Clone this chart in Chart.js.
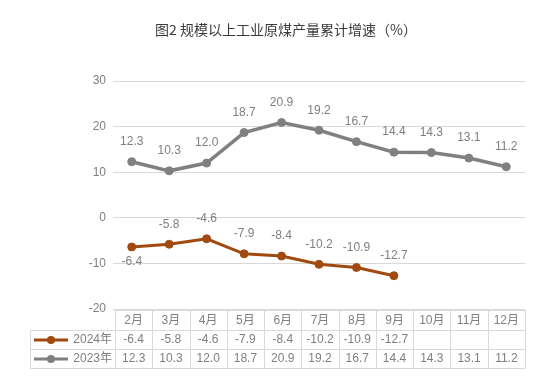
<!DOCTYPE html>
<html>
<head>
<meta charset="utf-8">
<script src="https://cdn.jsdelivr.net/npm/chart.js@4/dist/chart.umd.min.js"></script>
<style>
html,body{margin:0;padding:0;background:#fff;}
#wrap{width:554px;height:390px;position:relative;}
</style>
</head>
<body>
<div id="wrap"><canvas id="c" width="554" height="390"></canvas></div>
<script>
const titleText = '图2 规模以上工业原煤产量累计增速（%）';
const months = ['2月','3月','4月','5月','6月','7月','8月','9月','10月','11月','12月'];
const series2024 = [-6.4,-5.8,-4.6,-7.9,-8.4,-10.2,-10.9,-12.7,null,null,null];
const series2023 = [12.3,10.3,12.0,18.7,20.9,19.2,16.7,14.4,14.3,13.1,11.2];
const seriesNames = ['2024年','2023年'];
const yMin = -20, yMax = 30, yStep = 10;

const COL_2024 = '#a04a0f';
const COL_2023 = '#808080';
const TXT = '#7f7f7f';
const GRID = '#d9d9d9';
const FONT = "'Liberation Sans', 'Noto Sans CJK SC', sans-serif";

const titlePlugin = {
  id: 'titleDraw',
  afterDraw(chart) {
    const ctx = chart.ctx;
    ctx.save();
    ctx.font = "14px 'Noto Sans CJK SC', sans-serif";
    ctx.fillStyle = '#3a3a3a';
    ctx.textAlign = 'left';
    ctx.textBaseline = 'middle';
    // spread characters to match the reference title width
    const targetW = 262;
    const chars = Array.from(titleText);
    const natural = ctx.measureText(titleText).width;
    const extra = (targetW - natural) / (chars.length - 1);
    let x = 155;
    chars.forEach(ch => {
      ctx.fillText(ch, x, 30);
      x += ctx.measureText(ch).width + extra;
    });
    ctx.restore();
  }
};

const labelPlugin = {
  id: 'pointLabels',
  afterDatasetsDraw(chart) {
    const ctx = chart.ctx;
    ctx.save();
    ctx.font = '12px ' + FONT;
    ctx.fillStyle = TXT;
    ctx.textAlign = 'center';
    ctx.textBaseline = 'middle';
    chart.data.datasets.forEach((ds, di) => {
      const meta = chart.getDatasetMeta(di);
      meta.data.forEach((pt, i) => {
        const v = ds.data[i];
        if (v === null || v === undefined) return;
        const below = ds.labelBelow && ds.labelBelow.includes(i);
        const dy = below ? 15 : -20;
        ctx.fillText(v.toFixed(1), pt.x, pt.y + dy);
      });
    });
    ctx.restore();
  }
};

const tablePlugin = {
  id: 'dataTable',
  afterDraw(chart) {
    const ctx = chart.ctx;
    const area = chart.chartArea;
    const n = months.length;
    const left = area.left + 2;
    const right = area.right;
    const legendLeft = 30;
    const rows = [310, 330, 349, 368];
    const cw = (right - left) / n;
    ctx.save();
    ctx.strokeStyle = GRID;
    ctx.lineWidth = 1;
    ctx.beginPath();
    ctx.moveTo(left, rows[0] + 0.5); ctx.lineTo(right, rows[0] + 0.5);
    for (let r = 1; r < rows.length; r++) {
      ctx.moveTo(legendLeft, rows[r] + 0.5); ctx.lineTo(right, rows[r] + 0.5);
    }
    ctx.moveTo(legendLeft + 0.5, rows[1]); ctx.lineTo(legendLeft + 0.5, rows[3]);
    for (let i = 0; i <= n; i++) {
      const x = Math.round(left + i * cw) + 0.5;
      ctx.moveTo(x, rows[0]); ctx.lineTo(x, rows[3]);
    }
    ctx.stroke();

    ctx.font = '12px ' + FONT;
    ctx.fillStyle = TXT;
    ctx.textAlign = 'center';
    ctx.textBaseline = 'middle';
    months.forEach((m, i) => {
      const cx = left + (i + 0.5) * cw;
      ctx.fillText(m, cx, (rows[0] + rows[1]) / 2 + 0.5);
    });
    chart.data.datasets.forEach((ds, di) => {
      const yc = (rows[di + 1] + rows[di + 2]) / 2 + 0.5;
      ds.data.forEach((v, i) => {
        if (v === null || v === undefined) return;
        const cx = left + (i + 0.5) * cw;
        ctx.fillText(v.toFixed(1), cx, yc);
      });
      ctx.save();
      ctx.strokeStyle = ds.borderColor;
      ctx.lineWidth = 3;
      ctx.beginPath();
      ctx.moveTo(34, yc); ctx.lineTo(68, yc);
      ctx.stroke();
      ctx.fillStyle = ds.borderColor;
      ctx.beginPath();
      ctx.arc(51, yc, 4, 0, Math.PI * 2);
      ctx.fill();
      ctx.restore();
      ctx.textAlign = 'right';
      ctx.fillText(ds.label, 112, yc);
      ctx.textAlign = 'center';
    });
    ctx.restore();
  }
};

new Chart(document.getElementById('c'), {
  type: 'line',
  data: {
    labels: months,
    datasets: [
      {
        label: seriesNames[0],
        data: series2024,
        borderColor: COL_2024,
        backgroundColor: COL_2024,
        pointBackgroundColor: COL_2024,
        pointBorderColor: COL_2024,
        borderWidth: 3,
        pointRadius: 4,
        pointBorderWidth: 1,
        tension: 0,
        spanGaps: false,
        labelBelow: [0]
      },
      {
        label: seriesNames[1],
        data: series2023,
        borderColor: COL_2023,
        backgroundColor: COL_2023,
        pointBackgroundColor: COL_2023,
        pointBorderColor: COL_2023,
        borderWidth: 3.5,
        pointRadius: 4,
        pointBorderWidth: 1,
        tension: 0,
        labelBelow: []
      }
    ]
  },
  options: {
    responsive: false,
    animation: false,
    devicePixelRatio: 1,
    layout: { padding: { left: 0, right: 29, top: 81, bottom: 81 } },
    plugins: {
      legend: { display: false },
      title: { display: false },
      tooltip: { enabled: false }
    },
    scales: {
      x: {
        display: false,
        offset: true,
        grid: { display: false }
      },
      y: {
        min: yMin,
        max: yMax,
        ticks: {
          stepSize: yStep,
          padding: 7,
          color: TXT,
          font: { size: 12, family: FONT }
        },
        grid: { color: GRID, drawTicks: false, lineWidth: 1 },
        border: { display: false },
        afterFit(scale) { scale.width = 113; }
      }
    }
  },
  plugins: [titlePlugin, labelPlugin, tablePlugin]
});
</script>
</body>
</html>
